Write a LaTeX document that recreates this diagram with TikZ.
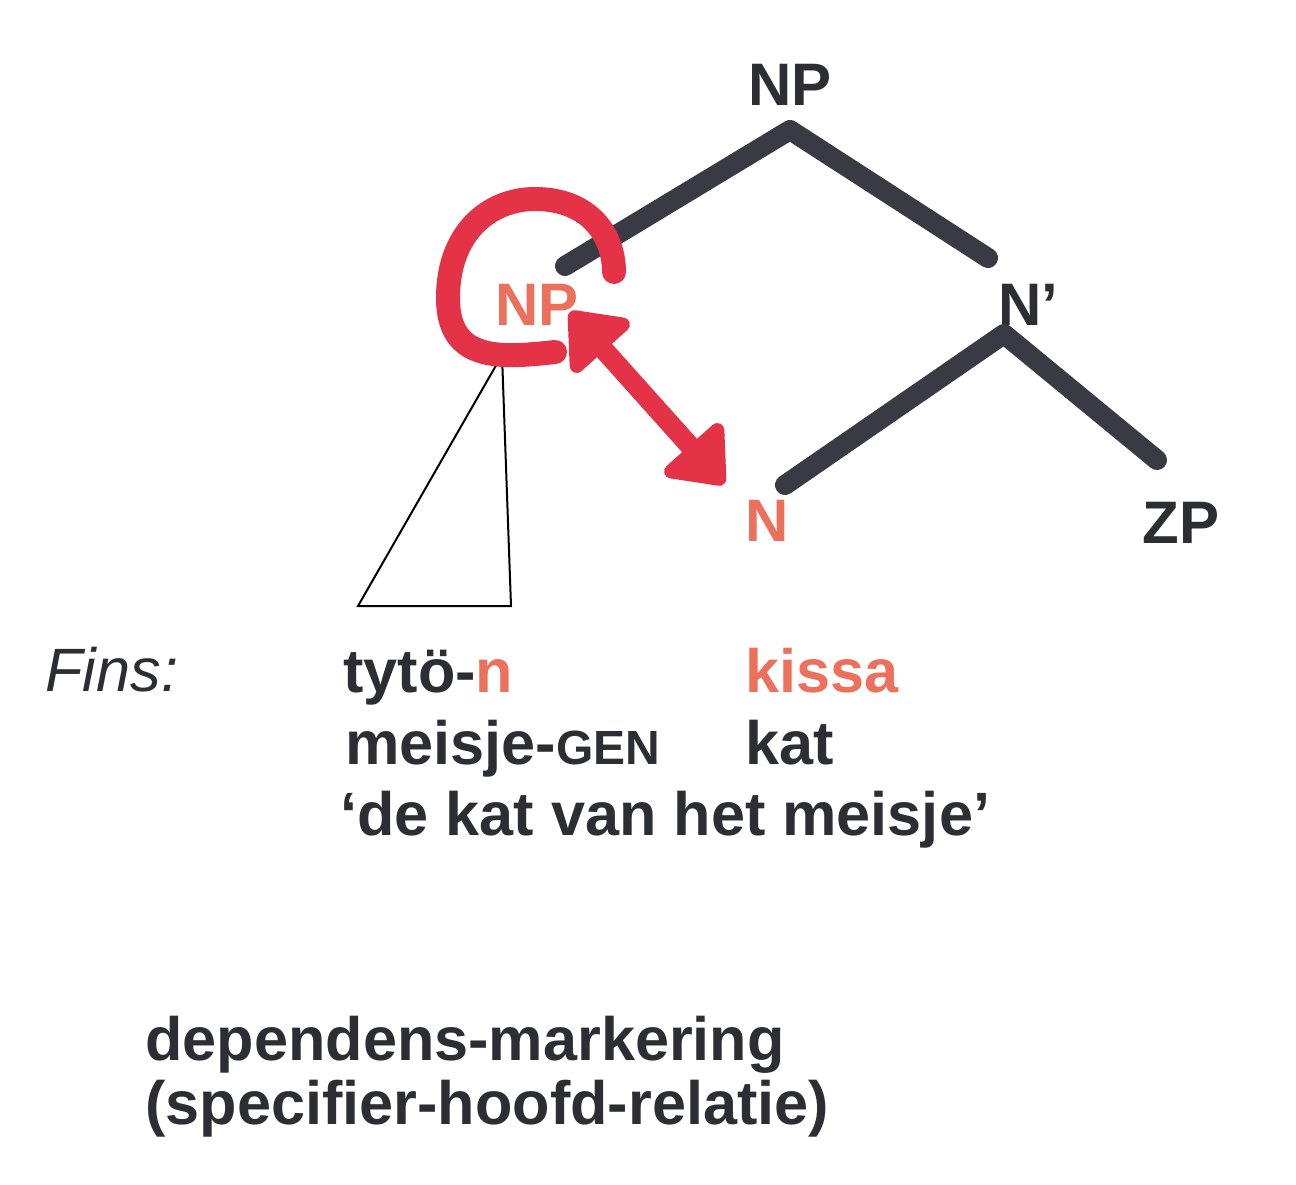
\documentclass[tikz,border=0pt]{standalone}
\usepackage{fontspec}
\setmainfont{Liberation Sans}
\usepackage{xcolor}
\usetikzlibrary{arrows.meta}
\definecolor{inkcolor}{RGB}{45,45,52}
\definecolor{branchcolor}{RGB}{58,58,68}
\definecolor{salmoncolor}{RGB}{236,112,92}
\definecolor{markercolor}{RGB}{228,50,70}

\begin{document}
\begin{tikzpicture}[
    x=0.5pt, y=-0.5pt,
    label/.style={font=\fontsize{30}{36}\selectfont\bfseries, text=inkcolor, inner sep=0pt, anchor=base west},
    gloss/.style={font=\fontsize{30.6}{36}\selectfont\bfseries, text=inkcolor, inner sep=0pt, anchor=base west},
    caption/.style={font=\fontsize{30.6}{32}\selectfont\bfseries, text=inkcolor, inner sep=0pt, anchor=base west},
    branch/.style={draw=branchcolor, line width=10pt, line cap=round, line join=round},
    marker/.style={draw=markercolor, line width=12pt, line cap=round},
]
    \useasboundingbox (0,0) rectangle (1296,1184);

    % Tree labels
    \node[label] (np) at (748, 105) {NP};
    \node[label, text=salmoncolor] (spec) at (495, 325) {NP};
    \node[label] (nbar) at (998, 325) {N’};
    \node[label, text=salmoncolor] (head) at (745, 541) {N};
    \node[label] (zp) at (1142, 543) {ZP};

    % Branch points
    \coordinate (np top) at (790, 130);
    \coordinate (spec end) at (565, 266);
    \coordinate (nbar end) at (988, 258);
    \coordinate (nbar top) at (1004, 334);
    \coordinate (head end) at (785, 485);
    \coordinate (zp end) at (1157, 460);

    \draw[branch] (spec end) -- (np top) -- (nbar end);
    \draw[branch] (head end) -- (nbar top) -- (zp end);

    % Triangle under the specifier
    \coordinate (tri top) at (502, 355);
    \coordinate (tri left) at (358, 606);
    \coordinate (tri right) at (511, 606);
    \draw[line width=1pt, black] (tri top) -- (tri left) -- (tri right) -- cycle;

    % Red marking
    \coordinate (loop start) at (555, 352);
    \coordinate (loop end) at (614, 272);
    \draw[marker] (loop start) .. controls (500, 358) and (448, 362) .. (448, 298)
        .. controls (448, 232) and (490, 199) .. (535, 199)
        .. controls (590, 199) and (614, 236) .. (loop end);
    \coordinate (arrow a) at (570, 312);
    \coordinate (arrow b) at (724, 484);
    \draw[marker, line width=10pt, line cap=butt,
        {Triangle[length=28pt, width=44pt, round]}-{Triangle[length=28pt, width=44pt, round]}]
        (arrow a) -- (arrow b);

    % Finnish example
    \node[gloss, font=\fontsize{30.6}{36}\selectfont\itshape] (lang) at (45, 691) {Fins:};
    \node[gloss] (dep word) at (343, 692) {tytö-\textcolor{salmoncolor}{n}};
    \node[gloss, text=salmoncolor] (head word) at (745, 692) {kissa};
    \node[gloss] (dep gloss) at (345, 764) {meisje-{\fontsize{24}{26}\selectfont GEN}};
    \node[gloss] (head gloss) at (745, 764) {kat};
    \node[gloss] (translation) at (340, 835) {‘de kat van het meisje’};

    % Caption
    \node[caption] (caption a) at (145, 1060) {dependens-markering};
    \node[caption] (caption b) at (145, 1124) {(specifier-hoofd-relatie)};

\end{tikzpicture}
\end{document}
